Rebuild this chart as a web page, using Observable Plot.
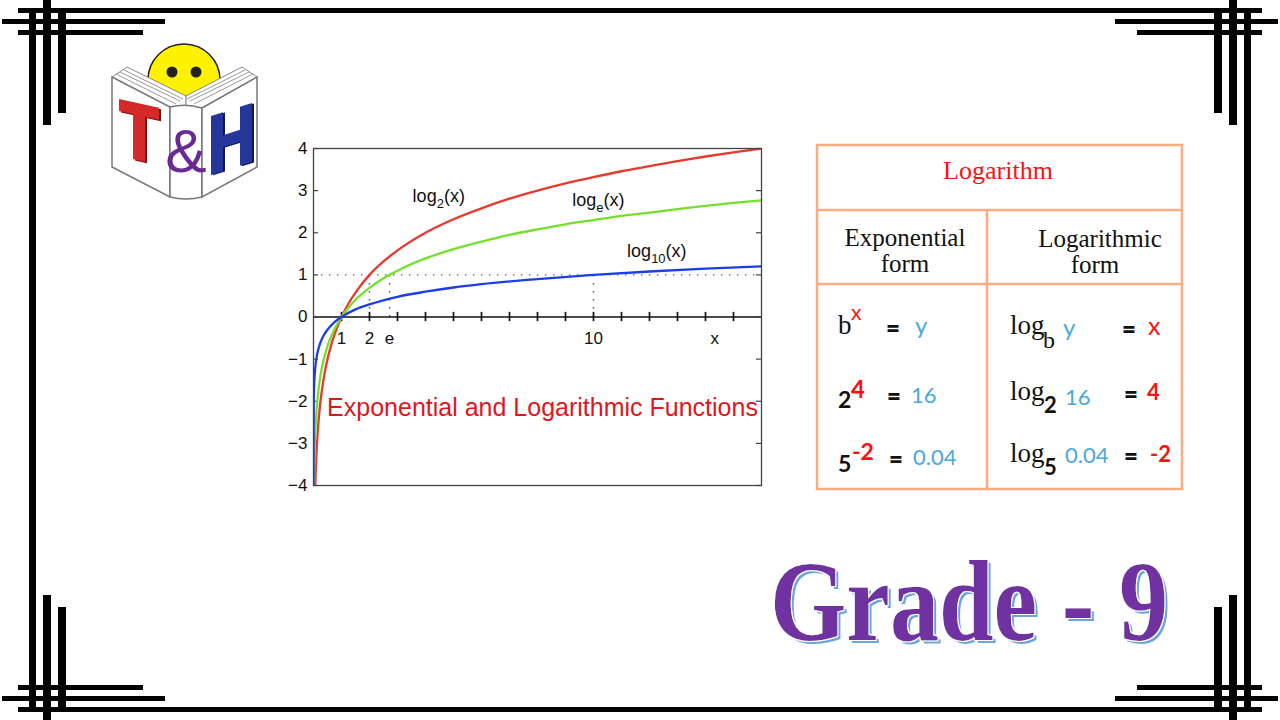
<!DOCTYPE html>
<html><head><meta charset="utf-8">
<script src="https://cdn.jsdelivr.net/npm/d3@7"></script>
<script src="https://cdn.jsdelivr.net/npm/@observablehq/plot@0.6"></script>
<style>
body{margin:0;background:#fff;}
#page{position:relative;width:1280px;height:720px;overflow:hidden;background:#fff;}
#deco{position:absolute;left:0;top:0;}
#chart{position:absolute;left:273px;top:138px;}
.serif{font-family:"Liberation Serif","Times New Roman",serif;}
.sans{font-family:Lato,"Open Sans",sans-serif;}
</style></head><body>
<div id="page">
<svg id="deco" width="1280" height="720" xmlns="http://www.w3.org/2000/svg">
  <defs>
    <filter id="gshadow" x="-5%" y="-5%" width="115%" height="120%">
      <feMorphology in="SourceAlpha" operator="dilate" radius="0.8" result="fat"/>
      <feFlood flood-color="#ffffff" result="white"/>
      <feComposite in="white" in2="fat" operator="in" result="halo"/>
      <feOffset in="SourceAlpha" dx="3" dy="3" result="off"/>
      <feFlood flood-color="#6aa6de" result="blue"/>
      <feComposite in="blue" in2="off" operator="in" result="shadow"/>
      <feMerge><feMergeNode in="shadow"/><feMergeNode in="halo"/><feMergeNode in="SourceGraphic"/></feMerge>
    </filter>
  </defs>
  <g id="frame" fill="#000"></g>
  <!-- logo -->
  <g id="logo">
    <circle cx="184" cy="80" r="36" fill="#fff200" stroke="#222" stroke-width="1.5"/>
    <circle cx="172" cy="72" r="5.5" fill="#222"/>
    <circle cx="196" cy="72" r="5.5" fill="#222"/>
    <polygon points="112,77 127,67 186,96 186,112 170,108" fill="#fff" stroke="#888" stroke-width="1"/>
    <polygon points="257,77 242,67 186,96 186,112 202,108" fill="#fff" stroke="#888" stroke-width="1"/>
    <g stroke="#999" stroke-width="1" fill="none">
      <line x1="116" y1="74" x2="176" y2="104"/><line x1="120" y1="72" x2="180" y2="101"/><line x1="124" y1="70" x2="183" y2="99"/>
      <line x1="253" y1="74" x2="194" y2="104"/><line x1="249" y1="72" x2="190" y2="101"/><line x1="245" y1="70" x2="187" y2="99"/>
    </g>
    <polygon points="112,77 170,107 170,197 112,167" fill="#fff" stroke="#777" stroke-width="1.5"/>
    <path d="M170,107 Q186,103 202,108 L202,197 Q186,201 170,197 Z" fill="#fff" stroke="#777" stroke-width="1.5"/>
    <polygon points="202,108 257,77 257,167 202,197" fill="#fff" stroke="#777" stroke-width="1.5"/>
    <g transform="translate(119,99) skewY(12.4)">
      <polygon points="2,1 42,1 42,13 28,13 28,58 16,58 16,13 2,13" fill="#7a1010"/>
      <polygon points="0,0 40,0 40,12 26,12 26,57 14,57 14,12 0,12" fill="#d42a2a"/>
    </g>
    <g transform="translate(211,116) skewY(-17.5)">
      <polygon points="2,1 14,1 14,24 31,24 31,1 43,1 43,60 31,60 31,36 14,36 14,60 2,60" fill="#0e1650"/>
      <polygon points="0,0 12,0 12,23 29,23 29,0 41,0 41,59 29,59 29,35 12,35 12,59 0,59" fill="#24359c"/>
    </g>
    <text x="186" y="172" text-anchor="middle" font-family="Liberation Sans, sans-serif" font-size="62" fill="#6a2a96">&amp;</text>
  </g>
  <!-- table -->
  <g id="table" fill="none" stroke="#f8ad82" stroke-width="2.5">
    <rect x="817" y="145" width="365" height="344"/>
    <line x1="817" y1="210" x2="1182" y2="210"/>
    <line x1="817" y1="284" x2="1182" y2="284"/>
    <line x1="987" y1="210" x2="987" y2="489"/>
  </g>
  <g id="tabletext"></g>
  <!-- grade -->
  <text x="770" y="640" textLength="398" lengthAdjust="spacingAndGlyphs" font-family="Liberation Serif, serif" font-weight="bold" font-size="114" fill="#7030a0" filter="url(#gshadow)">Grade - 9</text>
</svg>
<div id="chart"></div>
</div>
<script>
// ---------- chart data ----------
const seriesNames = ["log2", "ln", "log10"];
const seriesColors = ["#e8392d", "#74e02c", "#1d3de6"];
const log2X = [0.0625, 0.1, 0.15, 0.2, 0.25, 0.3, 0.4, 0.5, 0.6, 0.75, 1, 1.25, 1.5, 2, 2.5, 3, 4, 5, 6, 7, 8, 9, 10, 11, 12, 13, 14, 15, 16];
const log2Y = [-4, -3.32, -2.74, -2.32, -2, -1.74, -1.32, -1, -0.74, -0.42, 0, 0.32, 0.58, 1, 1.32, 1.58, 2, 2.32, 2.58, 2.81, 3, 3.17, 3.32, 3.46, 3.58, 3.70, 3.81, 3.91, 4];
const lnX = [0.0183, 0.03, 0.05, 0.075, 0.1, 0.15, 0.2, 0.3, 0.4, 0.5, 0.6, 0.75, 1, 1.25, 1.5, 2, 2.5, 3, 4, 5, 6, 7, 8, 9, 10, 11, 12, 13, 14, 15, 16];
const lnY = [-4, -3.51, -3, -2.59, -2.3, -1.9, -1.61, -1.2, -0.92, -0.69, -0.51, -0.29, 0, 0.22, 0.41, 0.69, 0.92, 1.1, 1.39, 1.61, 1.79, 1.95, 2.08, 2.2, 2.3, 2.4, 2.48, 2.56, 2.64, 2.71, 2.77];
const log10X = [0.0001, 0.001, 0.01, 0.03, 0.05, 0.1, 0.2, 0.3, 0.5, 0.75, 1, 1.5, 2, 3, 4, 5, 6, 8, 10, 12, 14, 16];
const log10Y = [-4, -3, -2, -1.52, -1.3, -1, -0.7, -0.52, -0.3, -0.12, 0, 0.18, 0.3, 0.48, 0.6, 0.7, 0.78, 0.9, 1, 1.08, 1.15, 1.2];
const yTicks = [-4, -3, -2, -1, 0, 1, 2, 3, 4];
const xTicks = [1, 2, 3, 4, 5, 6, 7, 8, 9, 10, 11, 12, 13, 14, 15];
const xLabelPos = [1, 2, 2.718, 10, 14.33];
const xLabelText = ["1", "2", "e", "10", "x"];
const guideX = [2, 2.718, 10];
const guideY = [1];
const curveLabelText = ["log_2(x)", "log_e(x)", "log_10(x)"];
const curveLabelX = [3.54, 9.24, 11.2];
const curveLabelY = [2.87, 2.78, 1.57];
const chartTitle = "Exponential and Logarithmic Functions";

const seriesX = [log2X, lnX, log10X];
const seriesY = [log2Y, lnY, log10Y];
const rows = seriesNames.flatMap((name, s) => seriesX[s].map((x, i) => ({series: name, x, y: seriesY[s][i]})));
const curveLabels = curveLabelText.map((t, i) => ({t, x: curveLabelX[i], y: curveLabelY[i]}));
const xLabels = xLabelText.map((t, i) => ({t, x: xLabelPos[i]}));

const chart = Plot.plot({
  width: 498, height: 357,
  marginLeft: 40, marginRight: 10, marginTop: 10, marginBottom: 10,
  x: {domain: [0, 16], axis: null, label: null},
  y: {domain: [-4, 4], label: null},
  color: {domain: seriesNames, range: seriesColors},
  style: {fontFamily: "'Liberation Sans', Arial, sans-serif", fontSize: "17px", color: "#111", background: "transparent"},
  marks: [
    Plot.ruleY(guideY, {stroke: "#555", strokeWidth: 1.4, strokeDasharray: "1.4,6.6"}),
    Plot.ruleX(guideX, {y1: 0, y2: 1, stroke: "#555", strokeWidth: 1.4, strokeDasharray: "1.4,6.6"}),
    Plot.ruleY([0], {stroke: "#111", strokeWidth: 1.6}),
    Plot.ruleX(xTicks, {y1: -0.11, y2: 0.11, stroke: "#111", strokeWidth: 1.7}),
    Plot.ruleY(yTicks, {x1: 0, x2: 0.18, stroke: "#444", strokeWidth: 1.2}),
    Plot.ruleY(yTicks, {x1: 15.82, x2: 16, stroke: "#444", strokeWidth: 1.2}),
    Plot.line(rows, {x: "x", y: "y", z: "series", stroke: "series", strokeWidth: 2.3, curve: "monotone-x", clip: true}),
    Plot.frame({stroke: "#444", strokeWidth: 1.3}),
    Plot.axisY(yTicks, {tickSize: 0, tickPadding: 6, fontSize: 17, fill: "#111",
      tickFormat: d => d < 0 ? "\u2212" + Math.abs(d) : String(d)}),
    Plot.text(xLabels, {x: "x", y: () => 0, text: "t", dy: 22, fontSize: 17, fill: "#111"}),
    Plot.text(curveLabels, {x: "x", y: "y", text: "t", textAnchor: "start", fontSize: 18, fill: "#111"}),
    Plot.text([chartTitle], {frameAnchor: "bottom", lineAnchor: "middle", dy: -78, dx: 5, fill: "#e0161c", fontSize: 25})
  ]
});
document.getElementById("chart").appendChild(chart);

// subscripts in curve labels
d3.select(chart).selectAll("text").each(function() {
  const raw = this.textContent;
  const m = raw.match(/^(log)_([0-9a-z]+)(\(x\))$/);
  if (!m) return;
  const t = d3.select(this);
  t.text(null);
  t.append("tspan").text(m[1]);
  t.append("tspan").attr("dy", 6).attr("font-size", 13).text(m[2]);
  t.append("tspan").attr("dy", -6).text(m[3]);
});

// ---------- decoration: frame ----------
const mains = [[18, 8, 1244, 5], [18, 707, 1244, 5], [29, 8, 7, 704], [1244, 8, 7, 704]];
const corner = [[2, 19, 163, 5], [18, 30, 125, 5], [43, 0, 8, 125], [58, 8, 8, 105]];
const fr = d3.select("#frame");
mains.forEach(([x, y, w, h]) => fr.append("rect").attr("x", x).attr("y", y).attr("width", w).attr("height", h));
corner.forEach(([x, y, w, h]) => {
  [[x, y], [1280 - x - w, y], [x, 720 - y - h], [1280 - x - w, 720 - y - h]].forEach(([a, b]) =>
    fr.append("rect").attr("x", a).attr("y", b).attr("width", w).attr("height", h));
});

// ---------- table text ----------
const RED = "#ff1010", BLUE = "#4aa8dc", BLK = "#111";
const tableText = [
  ["Logarithm", 998, 179, "serif", 26, RED, "middle", 400],
  ["Exponential", 905, 246, "serif", 25, BLK, "middle", 400],
  ["form", 905, 272, "serif", 25, BLK, "middle", 400],
  ["Logarithmic", 1100, 247, "serif", 25, BLK, "middle", 400],
  ["form", 1095, 273, "serif", 25, BLK, "middle", 400],
  ["b", 838, 334, "serif", 27, BLK, "start", 400],
  ["x", 851, 320, "sans", 21, RED, "start", 400],
  ["=", 886, 337, "sans", 24, BLK, "start", 800],
  ["y", 915, 334, "sans", 24, BLUE, "start", 400],
  ["2", 838, 408, "sans", 23, BLK, "start", 700],
  ["4", 851, 398, "sans", 24, RED, "start", 700],
  ["=", 887, 405, "sans", 24, BLK, "start", 800],
  ["16", 911, 403, "sans", 22, BLUE, "start", 400],
  ["5", 838, 472, "sans", 23, BLK, "start", 700],
  ["-2", 852, 460, "sans", 23, RED, "start", 700],
  ["=", 889, 468, "sans", 24, BLK, "start", 800],
  ["0.04", 913, 465, "sans", 22, BLUE, "start", 400],
  ["log", 1010, 334, "serif", 27, BLK, "start", 400],
  ["b", 1043, 348, "serif", 24, BLK, "start", 400],
  ["y", 1063, 336, "sans", 24, BLUE, "start", 400],
  ["=", 1122, 338, "sans", 24, BLK, "start", 800],
  ["x", 1148, 335, "sans", 25, RED, "start", 400],
  ["log", 1010, 400, "serif", 27, BLK, "start", 400],
  ["2", 1044, 413, "sans", 22, BLK, "start", 700],
  ["16", 1065, 405, "sans", 22, BLUE, "start", 400],
  ["=", 1124, 403, "sans", 24, BLK, "start", 800],
  ["4", 1147, 400, "sans", 22, RED, "start", 700],
  ["log", 1010, 462, "serif", 27, BLK, "start", 400],
  ["5", 1044, 475, "sans", 22, BLK, "start", 700],
  ["0.04", 1065, 463, "sans", 22, BLUE, "start", 400],
  ["=", 1124, 465, "sans", 24, BLK, "start", 800],
  ["-2", 1150, 462, "sans", 22, RED, "start", 700]
];
const tt = d3.select("#tabletext");
tableText.forEach(([s, x, y, f, size, col, anchor, w]) => {
  tt.append("text").attr("x", x).attr("y", y).attr("class", f).attr("font-size", size)
    .attr("fill", col).attr("text-anchor", anchor).attr("font-weight", w).text(s);
});
</script>
</body></html>
